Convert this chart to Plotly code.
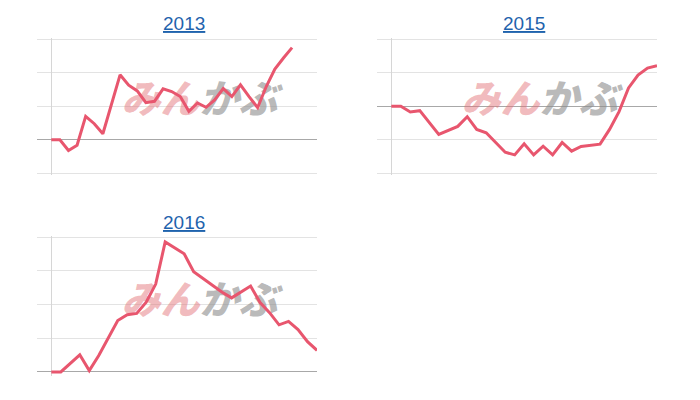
import plotly.graph_objects as go

# ---- data (values in %) ----
titles = ["2013", "2015", "2016"]

x_2013 = [0, 1, 2, 3, 4, 5, 6, 8, 9, 10, 11, 12, 13, 14, 15, 16, 17, 18, 19, 20, 21, 22, 23, 24, 25, 26, 27, 28]
y_2013 = [0, 0, -3.2, -1.6, 7.0, 4.8, 1.8, 19.4, 16.3, 14.6, 11.1, 11.5, 15.2, 14.4, 12.9, 8.5, 11.0,
          9.7, 11.9, 15.3, 12.9, 16.4, 12.9, 9.6, 15.9, 21.1, 24.4, 27.5]

x_2015 = [0, 1, 2, 3, 5, 6, 7, 8, 9, 10, 12, 13, 14, 15, 16, 17, 18, 19, 20, 22, 23, 24, 25, 26, 27, 28]
y_2015 = [0, 0, -1.7, -1.3, -8.4, -7.1, -6.0, -3.1, -6.9, -7.9, -13.7, -14.5, -11.2, -14.5, -11.9, -14.5,
          -10.8, -13.4, -12.0, -11.3, -6.9, -1.6, 5.5, 9.3, 11.4, 12.1]

x_2016 = [0, 1, 3, 4, 5, 6, 7, 8, 9, 10, 11, 12, 13, 14, 15, 16, 17, 18, 19, 21, 22, 23, 24, 25, 26, 27, 28]
y_2016 = [0, 0, 5.1, 0.4, 4.9, 10.3, 15.3, 17.0, 17.4, 20.7, 26.1, 38.6, 36.8, 35.1, 29.8, 27.7, 25.6,
          23.7, 22.0, 25.5, 20.6, 17.6, 14.0, 15.0, 12.6, 9.0, 6.4]

x_ranges = [[-1.66, 30.9], [-1.51, 28.0], [-1.51, 28.0]]
y_ranges = [[-10.5, 30.5], [-20.5, 20.5], [-1.2, 40.5]]

watermark_left = "みん"
watermark_right = "かぶ"

# ---- layout geometry ----
W, H = 700, 400
LINE = "#e8566e"
GRID = "#e3e3e3"
BASE = "#a8a8a8"
TITLE_C = "#1f63ad"

x_domains = [[37 / W, 317 / W], [377 / W, 657 / W], [37 / W, 317 / W]]
y_domains = [[1 - 175.0 / H, 1 - 37.6 / H], [1 - 175.0 / H, 1 - 37.6 / H], [1 - 376.0 / H, 1 - 235.6 / H]]
title_pos = [(184 / W, 1 - 23 / H), (524 / W, 1 - 23 / H), (184 / W, 1 - 222 / H)]
wm_frac = [(0.58, 0.525), (0.58, 0.525), (0.58, 0.51)]

series = [(x_2013, y_2013), (x_2015, y_2015), (x_2016, y_2016)]

fig = go.Figure()
layout = dict(
    width=W, height=H, margin=dict(l=0, r=0, t=0, b=0),
    paper_bgcolor="white", plot_bgcolor="white", showlegend=False,
    font=dict(family="Liberation Sans, Arial, sans-serif"),
)
annotations = []

for i, (xs, ys) in enumerate(series):
    n = "" if i == 0 else str(i + 1)
    xa, ya = "x" + n, "y" + n
    xr, yr = x_ranges[i], y_ranges[i]
    # watermark (drawn before the line so it sits underneath)
    wx = xr[0] + wm_frac[i][0] * (xr[1] - xr[0])
    wy = yr[0] + wm_frac[i][1] * (yr[1] - yr[0])
    fig.add_trace(go.Scatter(
        x=[wx, wx], y=[wy, wy], xaxis=xa, yaxis=ya, mode="text",
        text=[watermark_left, watermark_right],
        textposition=["middle left", "middle right"],
        textfont=dict(family="Noto Sans CJK JP", size=39, weight=900, style="italic",
                      color=["rgba(226,112,118,0.48)", "rgba(140,140,140,0.62)"]),
        hoverinfo="skip", cliponaxis=False,
    ))
    fig.add_trace(go.Scatter(
        x=xs, y=ys, xaxis=xa, yaxis=ya, mode="lines",
        line=dict(color=LINE, width=3), hoverinfo="skip",
    ))
    layout["xaxis" + n] = dict(
        domain=x_domains[i], range=xr, anchor=ya, showgrid=False, showticklabels=False,
        ticks="", zeroline=True, zerolinecolor="#d6d6d6", zerolinewidth=1, showline=False,
        fixedrange=True,
    )
    layout["yaxis" + n] = dict(
        domain=y_domains[i], range=yr, anchor=xa, showgrid=True, gridcolor=GRID, gridwidth=1,
        tick0=0, dtick=10, showticklabels=False, ticks="", zeroline=True, zerolinecolor=BASE,
        zerolinewidth=1, showline=False, fixedrange=True,
    )
    annotations.append(dict(
        text="<u>" + titles[i] + "</u>", xref="paper", yref="paper",
        x=title_pos[i][0], y=title_pos[i][1], xanchor="center", yanchor="middle",
        showarrow=False, font=dict(size=19, color=TITLE_C, family="Liberation Sans, Arial"),
    ))

layout["annotations"] = annotations
fig.update_layout(**layout)
fig.write_html("out.html", config={"displayModeBar": False},
               post_script="document.body.style.margin='0';")
